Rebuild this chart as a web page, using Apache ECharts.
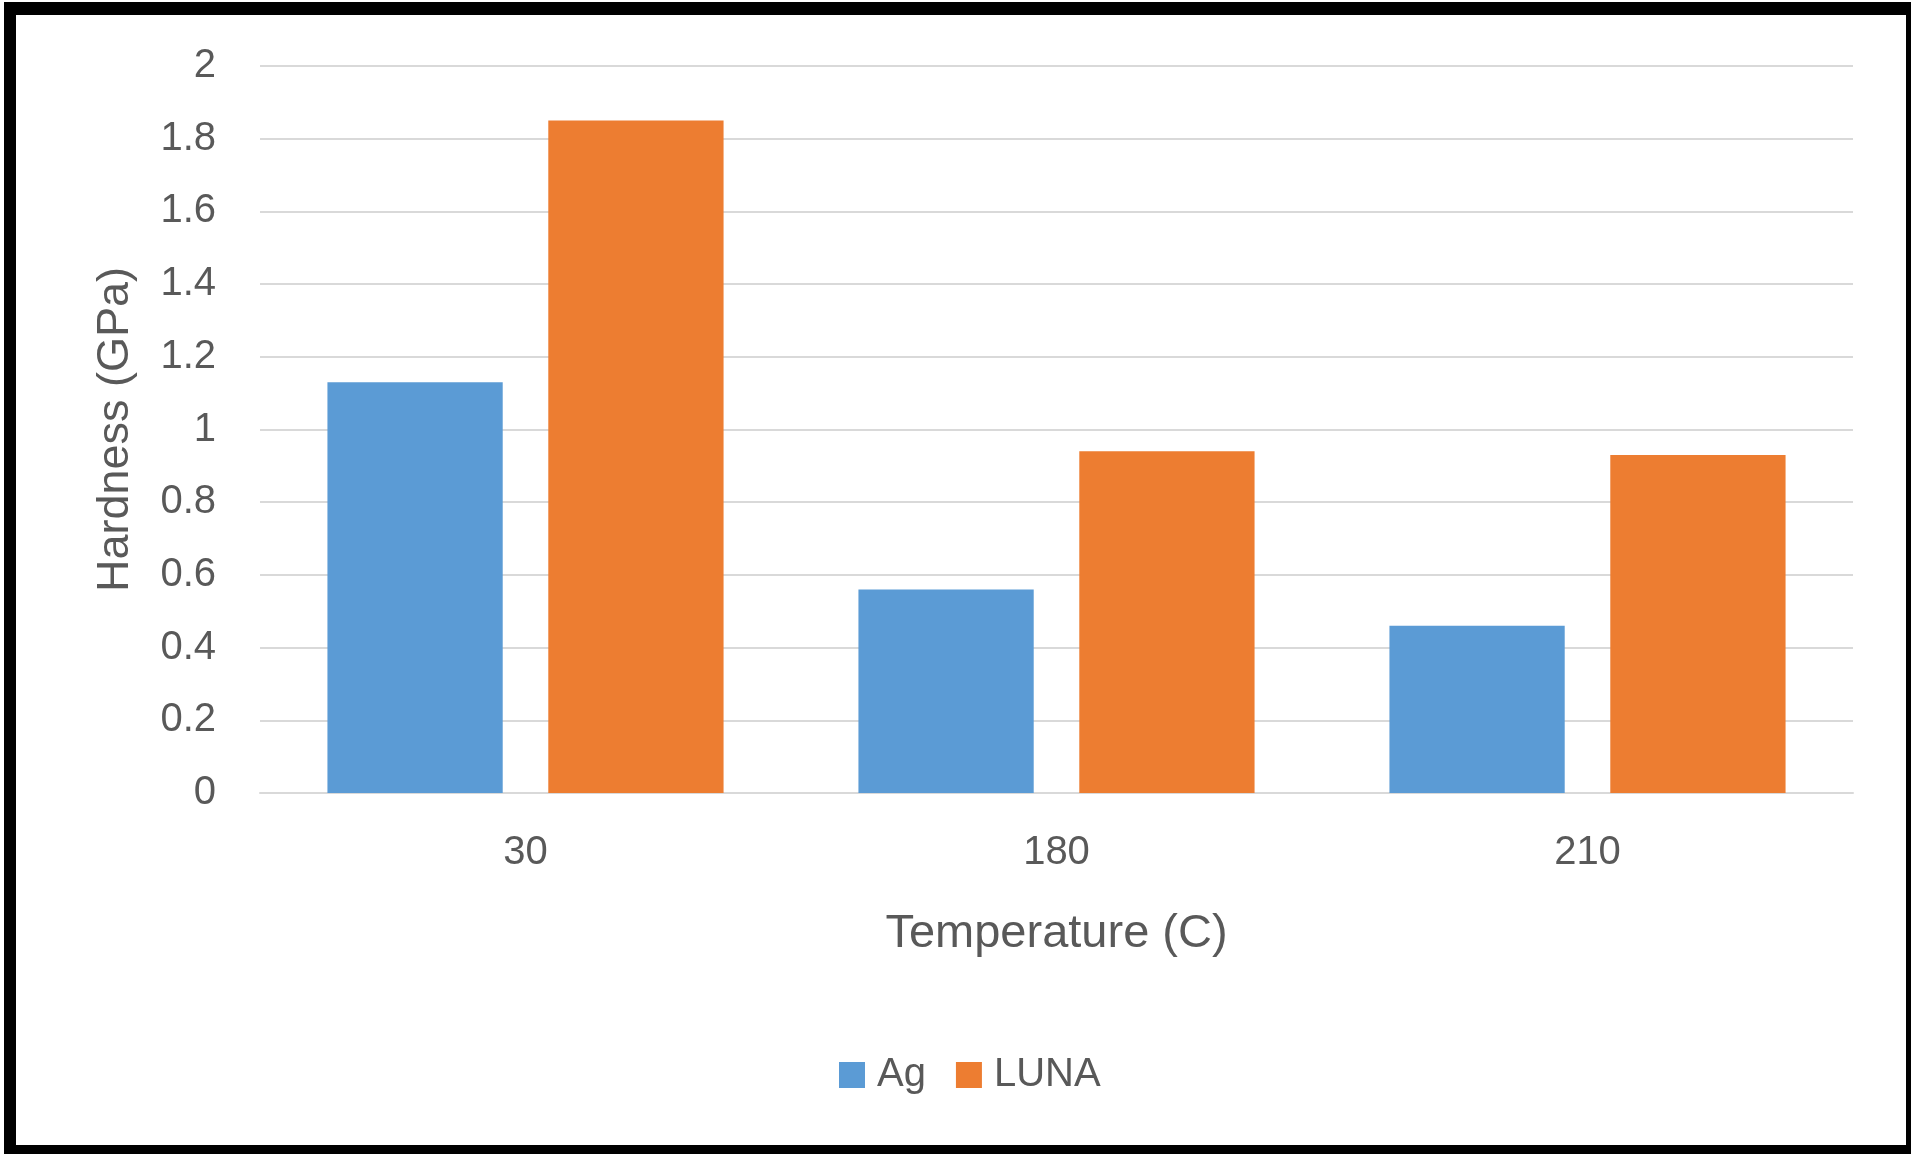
<!DOCTYPE html>
<html>
<head>
<meta charset="utf-8">
<script src="https://cdn.jsdelivr.net/npm/echarts@6/dist/echarts.min.js"></script>
<style>
html,body{margin:0;padding:0;background:#fff;}
#wrap{position:relative;width:1911px;height:1154px;overflow:hidden;}
#chart{position:absolute;left:0;top:0;width:1911px;height:1154px;}
#frame{position:absolute;left:4px;top:2px;width:1890px;height:1130px;border-style:solid;border-color:#000;border-width:13px 5px 9px 12px;pointer-events:none;}
</style>
</head>
<body>
<div id="wrap"><div id="chart"></div><div id="frame"></div></div>
<script>
const categories = ['30', '180', '210'];
const agValues = [1.13, 0.56, 0.46];
const lunaValues = [1.85, 0.94, 0.93];
const seriesNames = ['Ag', 'LUNA'];
const xTitle = 'Temperature (C)';
const yTitle = 'Hardness (GPa)';

const textColor = '#595959';
const fontFam = '"Liberation Sans", Arial, sans-serif';
const chart = echarts.init(document.getElementById('chart'), null, {renderer: 'canvas'});
chart.setOption({
  animation: false,
  backgroundColor: '#fff',
  textStyle: {fontFamily: fontFam, color: textColor},
  grid: {left: 260, right: 58, top: 66, bottom: 361, containLabel: false},
  legend: {
    data: seriesNames,
    left: 834,
    top: 1050,
    itemWidth: 26,
    itemHeight: 26,
    itemGap: 30,
    icon: 'rect',
    textStyle: {fontSize: 40, color: textColor, fontFamily: fontFam, padding: [0, 0, 0, 7]}
  },
  xAxis: {
    type: 'category',
    data: categories,
    name: xTitle,
    nameLocation: 'middle',
    nameGap: 118,
    nameTextStyle: {fontSize: 47, color: textColor, fontFamily: fontFam},
    axisLine: {show: true, lineStyle: {color: '#D9D9D9', width: 2}},
    axisTick: {show: false},
    axisLabel: {fontSize: 40, color: textColor, margin: 40, fontFamily: fontFam}
  },
  yAxis: {
    type: 'value',
    min: 0,
    max: 2,
    interval: 0.2,
    name: yTitle,
    nameLocation: 'middle',
    nameGap: 122,
    nameTextStyle: {fontSize: 45, color: textColor, fontFamily: fontFam},
    axisLine: {show: false},
    axisTick: {show: false},
    axisLabel: {fontSize: 40, color: textColor, margin: 44, fontFamily: fontFam},
    splitLine: {show: true, lineStyle: {color: '#D9D9D9', width: 2}}
  },
  series: [
    {name: seriesNames[0], type: 'bar', data: agValues, barGap: '26%', barCategoryGap: '25.4%', itemStyle: {color: '#5B9BD5'}},
    {name: seriesNames[1], type: 'bar', data: lunaValues, barGap: '26%', barCategoryGap: '25.4%', itemStyle: {color: '#ED7D31'}}
  ]
});
</script>
</body>
</html>
